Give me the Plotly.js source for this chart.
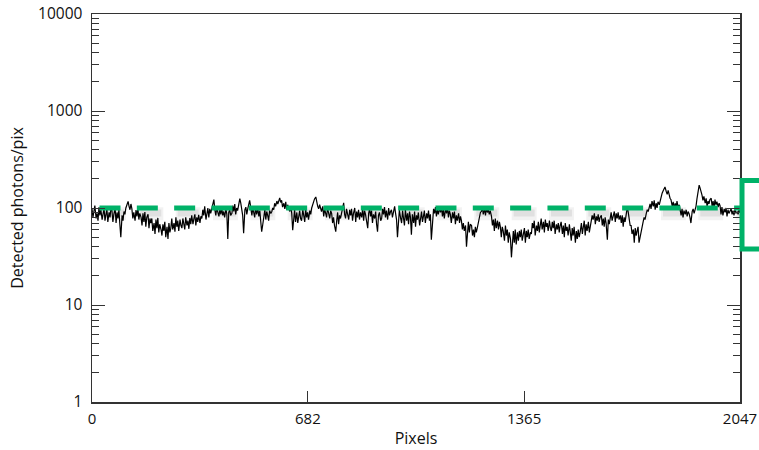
<!DOCTYPE html>
<html><head><meta charset="utf-8">
<script src="https://cdn.plot.ly/plotly-3.0.1.min.js"></script>
<style>html,body{margin:0;padding:0;background:#fff}#chart{width:759px;height:450px}</style>
</head><body><div id="chart"></div>
<script>
// Detected photons per pixel (one value every ~3.2 detector pixels)
const photonCounts = [
  98,80,92,106,78,88,74,102,84,96,     76,94,100,74,86,98,72,90,80,102,   94,72,86,100,70,90,78,96,68,50,
  84,74,92,86,100,108,117,104,96,110,  98,78,90,74,95,82,100,76,88,80,    66,88,72,91,64,80,86,62,78,70,
  78,58,70,54,76,62,79,56,68,60,       52,68,58,72,50,64,48,70,56,62,     78,60,70,57,80,64,74,58,76,66,
  62,78,70,60,80,66,74,61,79,68,       84,68,78,86,66,80,72,85,70,82,     78,96,84,104,76,92,100,80,98,88,
  98,112,122,96,84,100,90,82,98,86,    100,84,92,80,98,86,48,90,96,84,    88,106,92,110,86,100,94,108,125,112,
  90,84,55,96,102,86,98,108,120,104,   84,100,92,80,104,86,98,82,94,76,   57,66,86,96,76,92,84,74,94,88,
  92,100,96,112,104,118,110,122,127,114, 120,102,112,98,116,96,108,100,92,104, 88,59,82,96,72,90,70,86,94,78,
  74,96,84,72,98,80,90,76,94,86,       100,108,118,124,130,112,104,98,108,100, 92,104,82,98,88,80,100,84,78,94,
  88,70,80,66,57,74,90,68,84,78,       94,100,113,86,78,98,90,76,96,84,   98,74,88,100,72,92,80,96,76,90,
  80,100,74,94,86,72,62,88,98,82,      94,70,86,78,92,68,57,84,90,74,     78,98,86,102,80,94,76,100,84,92,
  96,80,100,104,88,76,50,84,96,78,     70,94,82,66,96,74,88,68,92,80,     53,86,70,92,64,84,76,90,66,80,
  92,72,84,94,70,88,78,94,74,86,       47,84,98,88,102,82,96,86,100,90,   104,82,96,78,100,88,102,80,94,86,
  70,90,78,92,68,84,74,88,70,82,       74,60,70,58,66,40,62,72,56,68,     66,52,60,50,64,56,62,72,84,90,
  92,102,86,98,84,100,90,96,86,94,     82,66,76,58,78,62,74,60,72,64,     50,64,58,46,66,52,60,44,56,48,
  31,48,58,44,60,42,56,46,58,50,       60,46,56,62,44,58,50,60,48,56,     54,70,62,74,52,66,58,72,56,68,
  78,60,72,56,76,64,70,58,74,62,       58,72,62,74,54,68,60,70,56,66,     72,54,66,50,70,58,64,52,68,56,
  46,62,52,64,44,58,48,60,50,56,       70,54,64,74,52,68,58,72,56,66,     70,84,76,88,68,82,74,86,72,80,
  84,66,78,64,80,70,47,76,68,82,       90,74,84,92,72,88,78,90,76,84,     70,84,64,80,72,86,102,90,78,66,
  66,54,60,44,62,52,58,64,44,50,       56,64,72,80,76,88,96,92,104,110,   98,118,104,120,96,112,100,116,108,122,
  130,142,150,158,165,148,138,152,134,126, 122,104,116,98,112,100,118,102,108,96, 84,98,80,94,86,96,82,92,88,80,
  70,92,98,88,96,104,124,150,172,160,  150,136,120,132,112,126,104,118,110,122, 126,104,118,100,122,108,116,102,112,106,
  86,102,84,98,90,100,82,96,88,94,     98,86,94,84,96,88,92,86,96,90
];
const pixelMax = 2047;
const referenceLevel = 100;
const xTickVals = [0, 682, 1365, 2047];
const yTickVals = [1, 10, 100, 1000, 10000];
const yTickText = ['1', '10', '100', '1000', '10000'];
const xTitle = 'Pixels';
const yTitle = 'Detected photons/pix';

const pixels = photonCounts.map((_, i) => Math.round(i * pixelMax / (photonCounts.length - 1)));
const minorVals = [];
for (let d = 1; d < 10000; d *= 10) for (let m = 2; m <= 9; m++) minorVals.push(m * d);

const green = 'rgb(0,178,104)';
const axisColor = '#333';
const font = 'Open Sans, Noto Sans, sans-serif';

const traces = [
  { x: [0, pixelMax], y: [referenceLevel * 0.87, referenceLevel * 0.87], mode: 'lines', hoverinfo: 'skip',
    line: { color: 'rgba(0,0,0,0.05)', width: 13, dash: '0px,9px,25px,3.33px' } },
  { x: [0, pixelMax], y: [referenceLevel * 0.89, referenceLevel * 0.89], mode: 'lines', hoverinfo: 'skip',
    line: { color: 'rgba(0,0,0,0.07)', width: 7, dash: '0px,11px,21px,5.33px' } },
  { x: pixels, y: photonCounts, mode: 'lines', line: { color: '#000', width: 1.2 } },
  { x: [0, pixelMax], y: [referenceLevel, referenceLevel], mode: 'lines',
    line: { color: green, width: 5, dash: '0px,7.5px,21px,8.83px' } }
];

const layout = {
  width: 759, height: 450,
  margin: { l: 92, r: 19, t: 14, b: 48 },
  paper_bgcolor: '#fff', plot_bgcolor: '#fff',
  showlegend: false,
  font: { family: font, size: 15, color: '#111' },
  xaxis: {
    range: [0, pixelMax], tickmode: 'array', tickvals: xTickVals, ticktext: xTickVals.map(String),
    ticks: 'inside', ticklen: 11, tickwidth: 1, tickcolor: axisColor, ticklabelstandoff: 2,
    showline: true, linecolor: axisColor, linewidth: 1.5, mirror: true,
    showgrid: false, zeroline: false,
    title: { text: xTitle, font: { size: 16 }, standoff: 6 }
  },
  yaxis: {
    type: 'log', range: [0, 4], tickmode: 'array', tickvals: yTickVals, ticktext: yTickText,
    ticks: 'inside', ticklen: 13, tickwidth: 1, tickcolor: axisColor, ticklabelstandoff: 5,
    tickfont: { size: 15.5 },
    minor: { tickmode: 'array', tickvals: minorVals, ticks: 'inside', ticklen: 7, tickcolor: axisColor, showgrid: false },
    showline: true, linecolor: axisColor, linewidth: 1.5, mirror: 'ticks',
    showgrid: false, zeroline: false,
    title: { text: yTitle, font: { size: 16 }, standoff: 10 }
  },
  shapes: [
    { type: 'path', xref: 'paper', yref: 'paper',
      path: 'M 1.05 0.5709 L 1.0031 0.5709 L 1.0031 0.3943 L 1.05 0.3943',
      line: { color: green, width: 5 } }
  ]
};

Plotly.newPlot('chart', traces, layout, { displayModeBar: false, staticPlot: true });
</script>
</body></html>
